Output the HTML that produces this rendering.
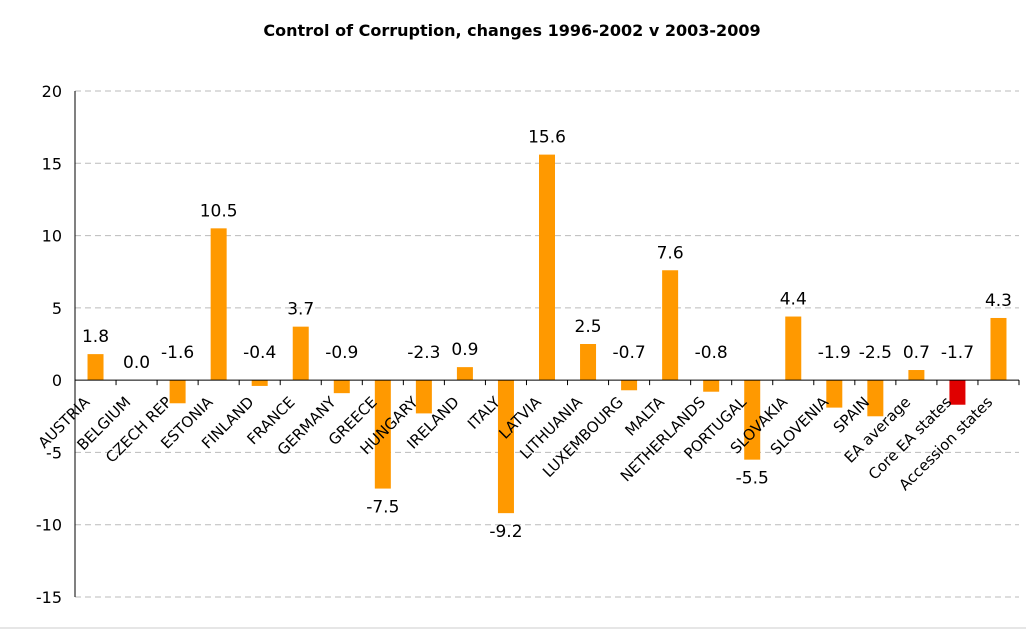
<!DOCTYPE html>
<html><head><meta charset="utf-8"><style>
body{margin:0;background:#fff;}
svg{display:block;font-family:"DejaVu Sans","Liberation Sans",sans-serif;}
</style></head><body>
<svg id="chart" width="1026" height="630">
<text x="512" y="36" text-anchor="middle" font-size="16" font-weight="bold">Control of Corruption, changes 1996-2002 v 2003-2009</text>
<line x1="0" y1="628" x2="1026" y2="628" stroke="#ccc"/>
<g id="grid"></g><g id="bars"></g><g id="labels"></g>
</svg>
<script>
const categories=["AUSTRIA","BELGIUM","CZECH REP","ESTONIA","FINLAND","FRANCE","GERMANY","GREECE","HUNGARY","IRELAND","ITALY","LATVIA","LITHUANIA","LUXEMBOURG","MALTA","NETHERLANDS","PORTUGAL","SLOVAKIA","SLOVENIA","SPAIN","EA average","Core EA states","Accession states"];
const values=[1.8,0.0,-1.6,10.5,-0.4,3.7,-0.9,-7.5,-2.3,0.9,-9.2,15.6,2.5,-0.7,7.6,-0.8,-5.5,4.4,-1.9,-2.5,0.7,-1.7,4.3];
const yTicks=[20,15,10,5,0,-5,-10,-15];
const NS="http://www.w3.org/2000/svg";
const x0=75,x1=1019,yTop=91,yBot=597,vMax=20,vMin=-15;
const y=v=>yTop+(vMax-v)*(yBot-yTop)/(vMax-vMin);
const bw=(x1-x0)/categories.length;
const xc=i=>x0+bw*(i+0.5);
function mk(t,a,p){const e=document.createElementNS(NS,t);for(const k in a)e.setAttribute(k,a[k]);p.appendChild(e);return e;}
const grid=document.getElementById('grid'),bars=document.getElementById('bars'),labels=document.getElementById('labels');
yTicks.forEach(v=>{
  if(v!==0){const l=mk('line',{x1:x0,x2:x1,y1:y(v),y2:y(v),stroke:'#bbb','stroke-dasharray':'6,4'},grid);
  
  }
  const t=mk('text',{x:62,y:y(v)+6,'text-anchor':'end','font-size':16},grid);t.textContent=v;
  
  
});
const ax=mk('line',{x1:x0,x2:x0,y1:yTop,y2:yBot,stroke:'#000'},grid);


values.forEach((v,i)=>{
  const c=xc(i);
  const r=mk('rect',{x:c-8,width:16,y:Math.min(y(v),y(0)),height:Math.abs(y(v)-y(0)),fill:i===21?'#e00000':'#ff9900'},bars);
  
  
  let ly;
  if(v< -3) ly=y(v)+24;
  else if(v<0) ly=y(0)-22;
  else ly=y(v)-12;
  const t=mk('text',{x:c,y:ly,'text-anchor':'middle','font-size':17},labels);
  t.textContent=v.toFixed(1);
  
  
  const lx=c-5,lyy=403;
  const k=mk('text',{x:lx,y:lyy,'text-anchor':'end','font-size':15,transform:`rotate(-45 ${lx} ${lyy})`},labels);
  k.textContent=categories[i];
  
  
  const tk=mk('line',{x1:x0+bw*(i+1),x2:x0+bw*(i+1),y1:y(0),y2:y(0)+5,stroke:'#000'},grid);
  
  
});
const xa=mk('line',{x1:x0,x2:x1,y1:y(0),y2:y(0),stroke:'#000'},labels);


</script>
</body></html>
